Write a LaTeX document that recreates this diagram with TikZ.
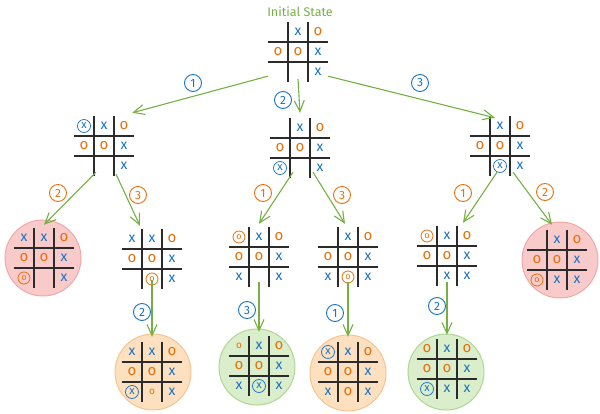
\documentclass[tikz,border=0pt]{standalone}
\usepackage{fontspec}
\setmainfont{Fira Sans}
\usetikzlibrary{arrows.meta,calc}

\definecolor{xblue}{HTML}{1971C2}
\definecolor{oorange}{HTML}{E8700C}
\definecolor{edgegreen}{HTML}{74B043}
\definecolor{gridgray}{HTML}{2B2B2B}
\definecolor{lossfill}{HTML}{F9CACA}
\definecolor{lossline}{HTML}{F2A8A8}
\definecolor{drawfill}{HTML}{FDE0C0}
\definecolor{drawline}{HTML}{F8C48E}
\definecolor{winfill}{HTML}{DAEECB}
\definecolor{winline}{HTML}{AFD694}

% one tic-tac-toe board: name, centre, nine cells (style/mark)
\newcommand{\board}[3]{%
  \node[boardbox] (#1) at (#2) {};
  \draw[gridline] ($(#1)+(-10,-30)$) -- ($(#1)+(-10,30)$);
  \draw[gridline] ($(#1)+(10,-30)$) -- ($(#1)+(10,30)$);
  \draw[gridline] ($(#1)+(-30,-10)$) -- ($(#1)+(30,-10)$);
  \draw[gridline] ($(#1)+(-30,10)$) -- ($(#1)+(30,10)$);
  \foreach \s/\t [count=\k from 0] in {#3} {
    \pgfmathsetmacro\cx{(mod(\k,3)-1)*20}
    \pgfmathsetmacro\cy{(int(\k/3)-1)*20}
    \node[cellbase, \s] (#1-\k) at ($(#1)+(\cx,\cy)$) {\t};
  }
}

\tikzset{
  boardbox/.style={minimum size=60pt, inner sep=0pt},
  gridline/.style={draw=gridgray, line width=1.1pt},
  cellbase/.style={inner sep=0pt, anchor=center},
  ee/.style={},
  xm/.style={text=xblue, font=\fontsize{14}{14}\selectfont},
  om/.style={text=oorange, font=\fontsize{15}{15}\selectfont},
  os/.style={text=oorange, font=\fontsize{10}{10}\selectfont},
  xc/.style={circle, draw=xblue, line width=0.7pt, text=xblue, inner sep=0.5pt,
             minimum size=13pt, font=\fontsize{11}{11}\selectfont},
  od/.style={circle, draw=oorange, line width=0.8pt, text=oorange, inner sep=0.5pt,
             minimum size=12pt, font=\fontsize{9}{9}\selectfont},
  ball/.style={circle, minimum size=76pt, line width=1pt},
  loss/.style={ball, fill=lossfill, draw=lossline},
  tie/.style={ball, fill=drawfill, draw=drawline},
  win/.style={ball, fill=winfill, draw=winline},
  arrow/.style={draw=edgegreen, line width=1.1pt,
                -{Straight Barb[length=11pt,width=10pt]}},
  numblue/.style={circle, draw=xblue, text=xblue, line width=0.9pt, inner sep=0pt,
                  minimum size=17pt, font=\fontsize{12}{12}\selectfont},
  numorange/.style={numblue, draw=oorange, text=oorange},
  title/.style={text=edgegreen, font=\fontsize{12.5}{12.5}\selectfont}
}

\begin{document}
\begin{tikzpicture}[x=1pt, y=-1pt]
  \useasboundingbox (0,0) rectangle (600,414);

  % outcome discs
  \node[loss] (AAbg) at (43,258) {};
  \node[loss] (CBbg) at (560,260) {};
  \node[tie] (ABAbg) at (153,372) {};
  \node[win] (BAAbg) at (257,367) {};
  \node[tie] (BBAbg) at (348,373) {};
  \node[win] (CAAbg) at (446,372) {};

  \node[title] (init) at (300,12) {Initial State};

  % boards
  \board{root}{298,52}{ee/{},xm/x,om/o,om/o,om/o,xm/x,ee/{},ee/{},xm/x}
  \board{A}{104,146}{xc/x,xm/x,om/o,om/o,om/o,xm/x,ee/{},ee/{},xm/x}
  \board{B}{300,148}{ee/{},xm/x,om/o,om/o,om/o,xm/x,xc/x,ee/{},xm/x}
  \board{C}{500,146}{ee/{},xm/x,om/o,om/o,om/o,xm/x,ee/{},xc/x,xm/x}
  \board{AA}{44,258}{xm/x,xm/x,om/o,om/o,om/o,xm/x,od/o,ee/{},xm/x}
  \board{AB}{152,259}{xm/x,xm/x,om/o,om/o,om/o,xm/x,ee/{},od/o,xm/x}
  \board{BA}{259,257}{od/o,xm/x,om/o,om/o,om/o,xm/x,xm/x,ee/{},xm/x}
  \board{BB}{348,257}{ee/{},xm/x,om/o,om/o,om/o,xm/x,xm/x,od/o,xm/x}
  \board{CA}{447,256}{od/o,xm/x,om/o,om/o,om/o,xm/x,ee/{},xm/x,xm/x}
  \board{CB}{557,260}{ee/{},xm/x,om/o,om/o,om/o,xm/x,od/o,xm/x,xm/x}
  \board{ABA}{152,372}{xm/x,xm/x,om/o,om/o,om/o,xm/x,xc/x,os/o,xm/x}
  \board{BAA}{259,366}{os/o,xm/x,om/o,om/o,om/o,xm/x,xm/x,xc/x,xm/x}
  \board{BBA}{348,372}{xc/x,xm/x,om/o,om/o,om/o,xm/x,xm/x,om/o,xm/x}
  \board{CAA}{447,369}{om/o,xm/x,om/o,om/o,om/o,xm/x,xc/x,xm/x,xm/x}

  % moves
  \draw[arrow] ([yshift=6pt]root.south west) -- ([xshift=-2pt,yshift=3pt]A.north east);
  \draw[arrow] ([yshift=3pt]root.south) -- ([yshift=5pt]B.north);
  \draw[arrow] ([yshift=6pt]root.south east) -- ([xshift=-5pt,yshift=-2pt]C.north);
  \draw[arrow] ([xshift=-8pt,yshift=4pt]A.south) -- ([yshift=3pt]AA.north);
  \draw[arrow] ([xshift=12pt,yshift=2pt]A.south) -- ([xshift=-12pt,yshift=3pt]AB.north);
  \draw[arrow] ([xshift=-7pt,yshift=6pt]B.south) -- ([yshift=3pt]BA.north);
  \draw[arrow] ([xshift=13pt,yshift=6pt]B.south) -- ([xshift=-3pt,yshift=3pt]BB.north);
  \draw[arrow] ([xshift=-3pt,yshift=4pt]C.south) -- ([xshift=16pt,yshift=3pt]CA.north);
  \draw[arrow] ([xshift=13pt,yshift=4pt]C.south) -- ([xshift=-5pt,yshift=5pt]CB.north);
  \draw[arrow] ([yshift=9pt]AB.south) -- ([yshift=5pt]ABA.north);
  \draw[arrow] ([yshift=5pt]BA.south) -- ([yshift=4pt]BAA.north);
  \draw[arrow] ([yshift=5pt]BB.south) -- ([yshift=5pt]BBA.north);
  \draw[arrow] ([yshift=4pt]CA.south) -- ([yshift=4pt]CAA.north);

  % move numbers
  \node[numblue] (m1) at (193,83) {1};
  \node[numblue] (m2) at (283,100) {2};
  \node[numblue] (m3) at (420,83) {3};
  \node[numorange] (mA2) at (58,193) {2};
  \node[numorange] (mA3) at (138,195) {3};
  \node[numorange] (mB1) at (263,193) {1};
  \node[numorange] (mB3) at (342,195) {3};
  \node[numorange] (mC1) at (463,193) {1};
  \node[numorange] (mC2) at (545,192) {2};
  \node[numblue] (mAB2) at (142,312) {2};
  \node[numblue] (mBA3) at (247,310) {3};
  \node[numblue] (mBB1) at (335,313) {1};
  \node[numblue] (mCA2) at (437,306) {2};
\end{tikzpicture}
\end{document}
